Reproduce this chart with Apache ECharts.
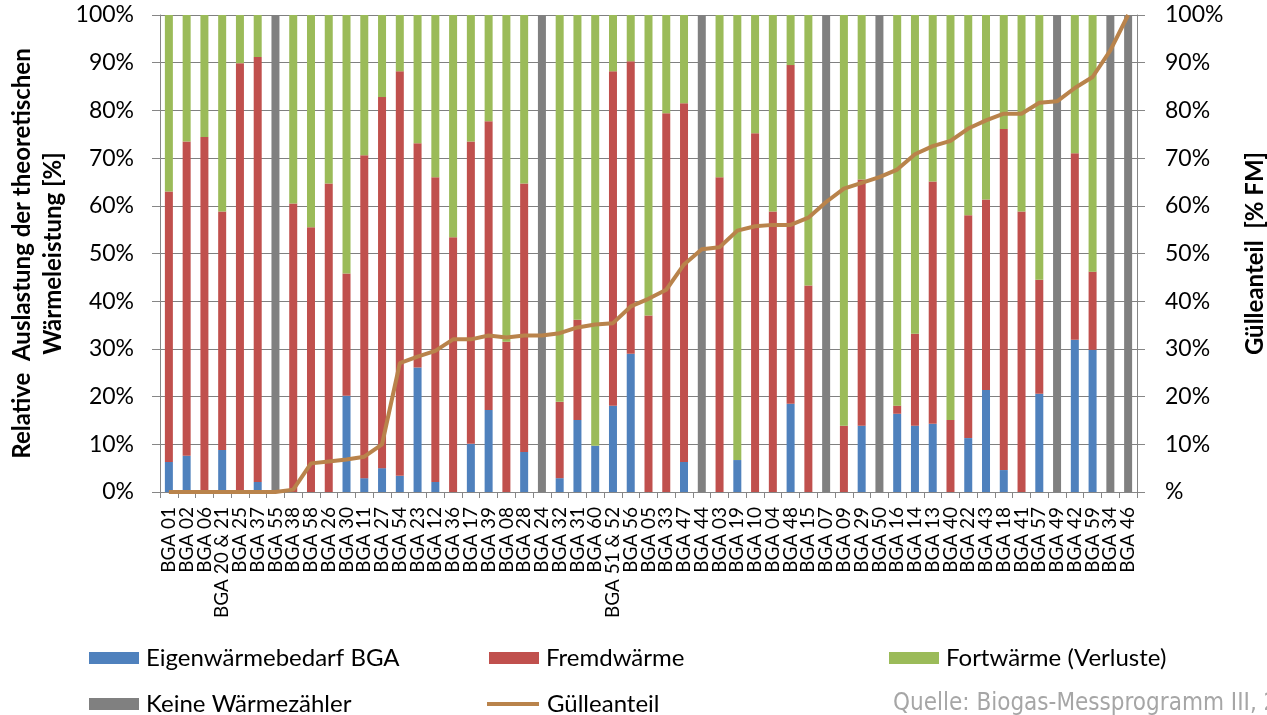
<!DOCTYPE html>
<html>
<head>
<meta charset="utf-8">
<script src="https://cdn.jsdelivr.net/npm/echarts@6/dist/echarts.min.js"></script>
<style>
  html, body { margin: 0; padding: 0; background: #fff; }
  #chart { width: 1267px; height: 715px; }
</style>
</head>
<body>
<div id="chart"></div>
<script>
// Biogasanlagen, sortiert nach Gülleanteil
const categories = [
  'BGA 01','BGA 02','BGA 06','BGA 20 & 21','BGA 25','BGA 37','BGA 55','BGA 38','BGA 58','BGA 26',
  'BGA 30','BGA 11','BGA 27','BGA 54','BGA 23','BGA 12','BGA 36','BGA 17','BGA 39','BGA 08',
  'BGA 28','BGA 24','BGA 32','BGA 31','BGA 60','BGA 51 & 52','BGA 56','BGA 05','BGA 33','BGA 47',
  'BGA 44','BGA 03','BGA 19','BGA 10','BGA 04','BGA 48','BGA 15','BGA 07','BGA 09','BGA 29',
  'BGA 50','BGA 16','BGA 14','BGA 13','BGA 40','BGA 22','BGA 43','BGA 18','BGA 41','BGA 57',
  'BGA 49','BGA 42','BGA 59','BGA 34','BGA 46'
];

// Anteile an der theoretischen Wärmeleistung [%]
const eigenwaerme = [
  6.3, 7.6, 0, 8.8, 0, 2.1, 0, 0, 0, 0,
  20.2, 2.9, 5.0, 3.4, 26.1, 2.1, 0, 10.1, 17.2, 0,
  8.4, 0, 2.9, 15.1, 9.7, 18.1, 29.0, 0, 0, 6.3,
  0, 0, 6.7, 0, 0, 18.5, 0, 0, 0, 13.9,
  0, 16.4, 13.9, 14.3, 0, 11.3, 21.4, 4.6, 0, 20.6,
  0, 31.9, 29.8, 0, 0
];
const fremdwaerme = [
  56.7, 65.9, 74.4, 50.0, 89.9, 89.1, 0, 60.5, 55.5, 64.7,
  25.6, 67.7, 77.8, 84.8, 47.0, 63.9, 53.4, 63.4, 60.5, 31.5,
  56.3, 0, 16.0, 21.0, 0, 70.1, 61.3, 37.0, 79.4, 75.2,
  0, 66.0, 0, 75.2, 58.8, 71.0, 43.3, 0, 13.9, 51.6,
  0, 1.7, 19.3, 50.8, 15.1, 46.7, 39.9, 71.5, 58.8, 23.9,
  0, 39.1, 16.4, 0, 0
];
const fortwaerme = [
  37.0, 26.5, 25.6, 41.2, 10.1, 8.8, 0, 39.5, 44.5, 35.3,
  54.2, 29.4, 17.2, 11.8, 26.9, 34.0, 46.6, 26.5, 22.3, 68.5,
  35.3, 0, 81.1, 63.9, 90.3, 11.8, 9.7, 63.0, 20.6, 18.5,
  0, 34.0, 93.3, 24.8, 41.2, 10.5, 56.7, 0, 86.1, 34.5,
  0, 81.9, 66.8, 34.9, 84.9, 42.0, 38.7, 23.9, 41.2, 55.5,
  0, 29.0, 53.8, 0, 0
];
const keineZaehler = [
  0, 0, 0, 0, 0, 0, 100, 0, 0, 0,
  0, 0, 0, 0, 0, 0, 0, 0, 0, 0,
  0, 100, 0, 0, 0, 0, 0, 0, 0, 0,
  100, 0, 0, 0, 0, 0, 0, 100, 0, 0,
  100, 0, 0, 0, 0, 0, 0, 0, 0, 0,
  100, 0, 0, 100, 100
];
// Gülleanteil [% FM]
const guelleanteil = [
  0, 0, 0, 0, 0, 0, 0, 0.5, 6.0, 6.4,
  6.8, 7.4, 10.0, 27.0, 28.4, 29.6, 32.0, 32.0, 32.8, 32.4,
  32.8, 32.8, 33.3, 34.5, 35.1, 35.4, 38.9, 40.5, 42.4, 47.7,
  50.9, 51.3, 54.8, 55.7, 56.0, 56.0, 57.5, 60.8, 63.6, 64.8,
  66.0, 67.6, 70.8, 72.5, 73.6, 76.2, 77.9, 79.3, 79.3, 81.6,
  81.9, 84.7, 87.0, 92.6, 100
];

const FONT = 'Lato, "Liberation Sans", sans-serif';
const AXIS_GREY = '#868686';
const GRID_GREY = '#808080';
const COLORS = {
  eigen: '#4F81BD',
  fremd: '#C0504D',
  fort: '#9BBB59',
  keine: '#808080',
  guelle: '#B9834B'
};

const chart = echarts.init(document.getElementById('chart'), null, { renderer: 'canvas' });

function legendAt(name, left, top) {
  return {
    left: left, top: top, padding: 0,
    itemWidth: 50, itemHeight: 12, itemGap: 0,
    selectedMode: false,
    textStyle: { fontFamily: FONT, fontSize: 24, color: '#000', padding: [0, 0, 0, 2] },
    data: [{ name: name, icon: 'rect' }]
  };
}

const barBase = { type: 'bar', stack: 'w', barWidth: 8, emphasis: { disabled: true } };

chart.setOption({
  animation: false,
  backgroundColor: '#fff',
  grid: { left: 160, right: 130, top: 15, bottom: 223, containLabel: false, outerBoundsMode: 'none' },
  legend: [
    legendAt('Eigenwärmebedarf BGA', 89, 646),
    legendAt('Fremdwärme', 489, 646),
    legendAt('Fortwärme (Verluste)', 889, 646),
    legendAt('Keine Wärmezähler', 89, 692),
    {
      left: 487, top: 692, padding: 0, itemWidth: 52, itemHeight: 4, itemGap: 0,
      selectedMode: false,
      textStyle: { fontFamily: FONT, fontSize: 24, color: '#000', padding: [0, 0, 0, 3] },
      data: [{ name: 'Gülleanteil', icon: 'rect', itemStyle: { color: COLORS.guelle } }]
    }
  ],
  graphic: [{
    type: 'text', left: 893, top: 692,
    style: {
      text: 'Quelle: Biogas-Messprogramm III, 2021',
      fontFamily: '"Liberation Sans Narrow", "DejaVu Sans Condensed", sans-serif',
      fontSize: 24, fill: '#A6A6A6'
    }
  }],
  xAxis: {
    type: 'category',
    data: categories,
    boundaryGap: true,
    axisLine: { lineStyle: { color: AXIS_GREY, width: 1 } },
    axisTick: { show: true, length: 6, alignWithLabel: false, interval: 0, lineStyle: { color: AXIS_GREY } },
    axisLabel: { interval: 0, rotate: 90, margin: 15, fontFamily: FONT, fontSize: 19, color: '#000' }
  },
  yAxis: [
    {
      type: 'value', min: 0, max: 100, interval: 10, position: 'left',
      name: 'Relative  Auslastung der theoretischen\nWärmeleistung [%]',
      nameLocation: 'middle', nameRotate: 90, nameGap: 91, nameMoveOverlap: false,
      nameTextStyle: { fontFamily: FONT, fontSize: 24, fontWeight: 'bold', color: '#000', lineHeight: 31, align: 'center' },
      axisLine: { show: true, lineStyle: { color: AXIS_GREY, width: 1 } },
      axisTick: { show: true, length: 8, lineStyle: { color: AXIS_GREY } },
      axisLabel: { margin: 26, fontFamily: FONT, fontSize: 23, color: '#000', formatter: '{value}%' },
      splitLine: { show: true, lineStyle: { color: GRID_GREY, width: 1 } }
    },
    {
      type: 'value', min: 0, max: 100, interval: 10, position: 'right',
      name: 'Gülleanteil  [% FM]',
      nameLocation: 'middle', nameRotate: 90, nameGap: 106, nameMoveOverlap: false,
      nameTextStyle: { fontFamily: FONT, fontSize: 24, fontWeight: 'bold', color: '#000' },
      axisLine: { show: true, lineStyle: { color: AXIS_GREY, width: 1 } },
      axisTick: { show: true, length: 8, lineStyle: { color: AXIS_GREY } },
      axisLabel: {
        margin: 28, fontFamily: FONT, fontSize: 23, color: '#000',
        formatter: v => (v === 0 ? '%' : v + '%')
      },
      splitLine: { show: false }
    }
  ],
  series: [
    Object.assign({ name: 'Eigenwärmebedarf BGA', data: eigenwaerme, itemStyle: { color: COLORS.eigen } }, barBase),
    Object.assign({ name: 'Fremdwärme', data: fremdwaerme, itemStyle: { color: COLORS.fremd } }, barBase),
    Object.assign({ name: 'Fortwärme (Verluste)', data: fortwaerme, itemStyle: { color: COLORS.fort } }, barBase),
    Object.assign({ name: 'Keine Wärmezähler', data: keineZaehler, itemStyle: { color: COLORS.keine } }, barBase),
    {
      name: 'Gülleanteil', type: 'line', yAxisIndex: 1, data: guelleanteil,
      symbol: 'none', z: 5,
      lineStyle: { color: COLORS.guelle, width: 4 },
      itemStyle: { color: COLORS.guelle },
      emphasis: { disabled: true }
    }
  ]
});
</script>
</body>
</html>
